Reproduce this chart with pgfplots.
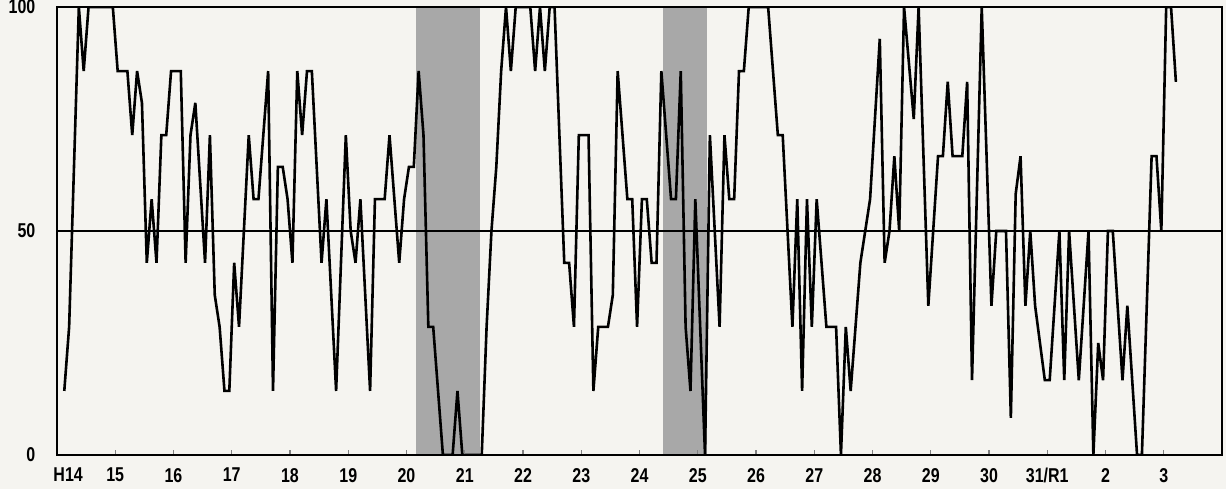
\documentclass[border=0pt]{standalone}
\usepackage{pgfplots}
\pgfplotsset{compat=1.18}
\usepackage{pgfplotstable}
\usepackage{fontspec}
\setmainfont{Liberation Sans}
\definecolor{paper}{RGB}{245,244,240}
\definecolor{band}{RGB}{168,168,168}

% monthly DI, m = months since Jan H14 (point drawn mid-month)
\pgfplotstableread{
m v
1 14.3
2 28.6
3 64.3
4 100
5 85.7
6 100
7 100
8 100
9 100
10 100
11 100
12 85.7
13 85.7
14 85.7
15 71.4
16 85.7
17 78.6
18 42.9
19 57.1
20 42.9
21 71.4
22 71.4
23 85.7
24 85.7
25 85.7
26 42.9
27 71.4
28 78.6
29 60.7
30 42.9
31 71.4
32 35.7
33 28.6
34 14.3
35 14.3
36 42.9
37 28.6
38 50
39 71.4
40 57.1
41 57.1
42 71.4
43 85.7
44 14.3
45 64.3
46 64.3
47 57.1
48 42.9
49 85.7
50 71.4
51 85.7
52 85.7
53 64.3
54 42.9
55 57.1
56 35.7
57 14.3
58 42.9
59 71.4
60 50
61 42.9
62 57.1
63 35.7
64 14.3
65 57.1
66 57.1
67 57.1
68 71.4
69 57.1
70 42.9
71 57.1
72 64.3
73 64.3
74 85.7
75 71.4
76 28.6
77 28.6
78 14.3
79 0
80 0
81 0
82 14.3
83 0
84 0
85 0
86 0
87 0
88 28.6
89 50
90 64.3
91 85.7
92 100
93 85.7
94 100
95 100
96 100
97 100
98 85.7
99 100
100 85.7
101 100
102 100
103 71.4
104 42.9
105 42.9
106 28.6
107 71.4
108 71.4
109 71.4
110 14.3
111 28.6
112 28.6
113 28.6
114 35.7
115 85.7
116 71.4
117 57.1
118 57.1
119 28.6
120 57.1
121 57.1
122 42.9
123 42.9
124 85.7
125 71.4
126 57.1
127 57.1
128 85.7
129 28.6
130 14.3
131 57.1
132 28.6
133 0
134 71.4
135 50
136 28.6
137 71.4
138 57.1
139 57.1
140 85.7
141 85.7
142 100
143 100
144 100
145 100
146 100
147 85.7
148 71.4
149 71.4
150 50
151 28.6
152 57.1
153 14.3
154 57.1
155 28.6
156 57.1
157 42.9
158 28.6
159 28.6
160 28.6
161 0
162 28.6
163 14.3
164 28.6
165 42.9
166 50
167 57.1
168 75
169 92.9
170 42.9
171 50
172 66.7
173 50
174 100
175 87.5
176 75
177 100
178 66.7
179 33.3
180 50
181 66.7
182 66.7
183 83.3
184 66.7
185 66.7
186 66.7
187 83.3
188 16.7
189 58.3
190 100
191 66.7
192 33.3
193 50
194 50
195 50
196 8.3
197 58.3
198 66.7
199 33.3
200 50
201 33.3
202 25
203 16.7
204 16.7
205 33.3
206 50
207 16.7
208 50
209 33.3
210 16.7
211 33.3
212 50
213 0
214 25
215 16.7
216 50
217 50
218 33.3
219 16.7
220 33.3
221 16.7
222 0
223 0
224 33.3
225 66.7
226 66.7
227 50
228 100
229 100
230 83.3
}\ditable

\begin{document}
\begin{tikzpicture}
\fill[paper] (-28.5pt,-17pt) rectangle (584.5pt,227.5pt);
\begin{axis}[
  at={(0,0)}, anchor=south west,
  scale only axis, width=582.5pt, height=224pt,
  xmin=0, xmax=240, ymin=0, ymax=100,
  axis on top,
  axis line style={line width=0.8pt},
  xtick={12,24,...,228},
  xticklabels={15,16,17,18,19,20,21,22,23,24,25,26,27,28,29,30,31/R1,2,3},
  extra x ticks={2.3}, extra x tick labels={H14},
  extra x tick style={major tick length=0pt},
  xtick pos=bottom, xtick align=inside,
  major tick length=2.5pt,
  x tick style={line width=0.6pt},
  ytick={0,50,100}, yticklabels={0,50,100},
  y tick style={draw=none},
  ymajorgrids, major grid style={black, line width=0.8pt},
  tick label style={font=\fontsize{10}{11}\selectfont\bfseries, xscale=0.8},
  yticklabel style={anchor=east, xshift=-10pt},
  xticklabel style={yshift=-3pt},
  /pgf/number format/assume math mode=true,
]
\addplot[fill=band, draw=none] coordinates {(74,0) (74,100) (87.1,100) (87.1,0)} -- cycle;
\addplot[fill=band, draw=none] coordinates {(124.8,0) (124.8,100) (133.9,100) (133.9,0)} -- cycle;
\addplot[black, line width=1.3pt, sharp plot, mark=none, line join=miter, miter limit=3]
  table[x expr=\thisrow{m}+0.5, y=v] {\ditable};
\draw[line width=1.4pt] (rel axis cs:0,0) -- (rel axis cs:0,1);
\end{axis}
\pgfresetboundingbox
\path[use as bounding box] (-28.5pt,-17pt) rectangle (584.5pt,227.5pt);
\end{tikzpicture}
\end{document}
